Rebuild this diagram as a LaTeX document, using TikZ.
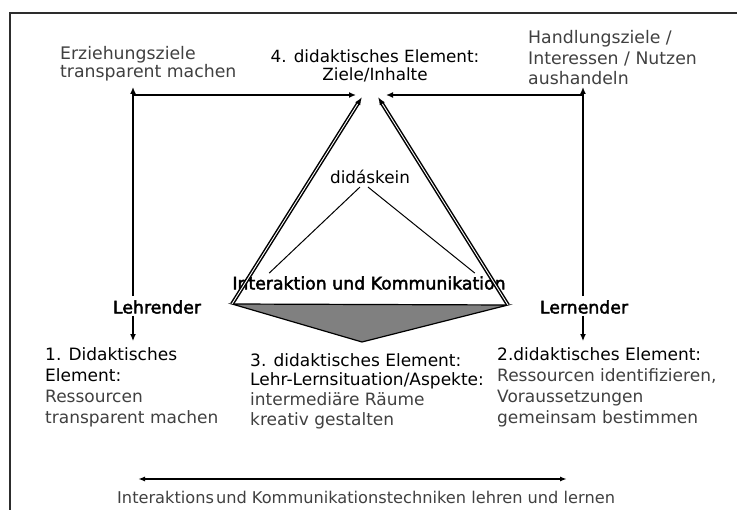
\documentclass[tikz,border=0pt]{standalone}
\usepackage{fontspec}
\setmainfont{DejaVu Sans}
\newfontfamily\rolefont[FakeBold=2.5]{DejaVu Sans}
\usetikzlibrary{arrows.meta, positioning}
\definecolor{textgray}{RGB}{64,64,64}
\definecolor{framegray}{RGB}{45,45,45}
\definecolor{fillgray}{RGB}{128,128,128}

\tikzset{
  blk/.style={inner sep=0pt, align=left, font=\fontsize{16.8}{17.5}\selectfont},
  gry/.style={inner sep=0pt, align=left, text=textgray, font=\fontsize{17.3}{18}\selectfont},
  role/.style={inner sep=0pt, font=\rolefont\fontsize{17.3}{18}\selectfont},
  arr/.style={line width=2.2pt, -{Latex[length=7pt,width=6pt]}},
  triside/.style={double, line width=1.5pt, double distance=0.9pt, -{Latex[length=8pt,width=6pt]}},
  thinline/.style={line width=1pt},
}

\begin{document}
\begin{tikzpicture}[x=1pt, y=-1pt]
			\useasboundingbox (0,0) rectangle (737,510);
			\draw[framegray, line width=1.5pt] (737,13) -- (10,13) -- (10,510);

			% corners of the triangle and the arrow ends
			\coordinate (lv) at (232,304);
			\coordinate (rv) at (508,305);
			\coordinate (bv) at (362,342);
			\coordinate (topL) at (362,97);
			\coordinate (topR) at (378,97);
			\coordinate (cornerL) at (133,95);
			\coordinate (cornerR) at (583,95);
			\coordinate (tipL) at (356,95);
			\coordinate (tipR) at (386,95);
			\coordinate (techL) at (138,479);
			\coordinate (techR) at (567,479);

			\node[gry, anchor=west] (erz) at (60,64) {Erziehungsziele\\transparent machen};
			\node[blk, align=center] (ziel) at (375,66) {4. didaktisches Element:\\Ziele/Inhalte};
			\node[gry, anchor=west, font=\fontsize{17.3}{20.5}\selectfont] (handl) at (528,58) {Handlungsziele /\\Interessen / Nutzen\\aushandeln};
			\node[blk] (dida) at (370,177) {didáskein};
			\node[role] (ia) at (369,283) {Interaktion und Kommunikation};
			\node[role] (lehr) at (157,307) {Lehrender};
			\node[role] (lern) at (584,307) {Lernender};
			\node[blk, anchor=west, font=\fontsize{17}{21}\selectfont] (el1) at (45,387) {1. Didaktisches\\Element:\\\textcolor{textgray}{Ressourcen}\\\textcolor{textgray}{transparent machen}};
			\node[blk, anchor=west, font=\fontsize{17}{19.7}\selectfont] (el3) at (250,391) {3. didaktisches Element:\\Lehr-Lernsituation/Aspekte:\\\textcolor{textgray}{intermediäre Räume}\\\textcolor{textgray}{kreativ gestalten}};
			\node[blk, anchor=west, font=\fontsize{17}{21}\selectfont] (el2) at (497,387) {2.didaktisches Element:\\\textcolor{textgray}{Ressourcen identifizieren,}\\\textcolor{textgray}{Voraussetzungen}\\\textcolor{textgray}{gemeinsam bestimmen}};
			\node[gry, anchor=west, font=\fontsize{16.2}{18}\selectfont] (tech) at (117,497) {Interaktions\hspace{2pt}und Kommunikationstechniken lehren und lernen};

			% triangle
			\draw[fill=fillgray, line width=1.2pt] (lv) -- (rv) -- (bv) -- cycle;
			\draw[triside] (lv) -- (topL);
			\draw[triside] (rv) -- (topR);
			\draw[thinline] ([xshift=-10pt,yshift=-3pt]dida.south) -- ([xshift=37pt,yshift=3pt]ia.north west);
			\draw[thinline] ([xshift=-2pt,yshift=-3pt]dida.south) -- ([xshift=-31pt,yshift=3pt]ia.north east);

			% arrows at the sides
			\draw[arr] ([yshift=4pt]lehr.north -| cornerL) -- ([yshift=8pt]cornerL);
			\draw[arr] (cornerL) -- (tipL);
			\draw[arr] ([yshift=4pt]lern.north -| cornerR) -- ([yshift=8pt]cornerR);
			\draw[arr] (cornerR) -- (tipR);
			\draw[arr] ([yshift=-2pt]lehr.south -| cornerL) -- ([yshift=6pt]el1.north -| cornerL);
			\draw[arr] ([yshift=-2pt]lern.south -| cornerR) -- ([yshift=6pt]el2.north -| cornerR);
			\draw[line width=2pt, {Latex[length=7pt,width=5pt]}-{Latex[length=7pt,width=5pt]}] (techL) -- (techR);
\end{tikzpicture}
\end{document}
